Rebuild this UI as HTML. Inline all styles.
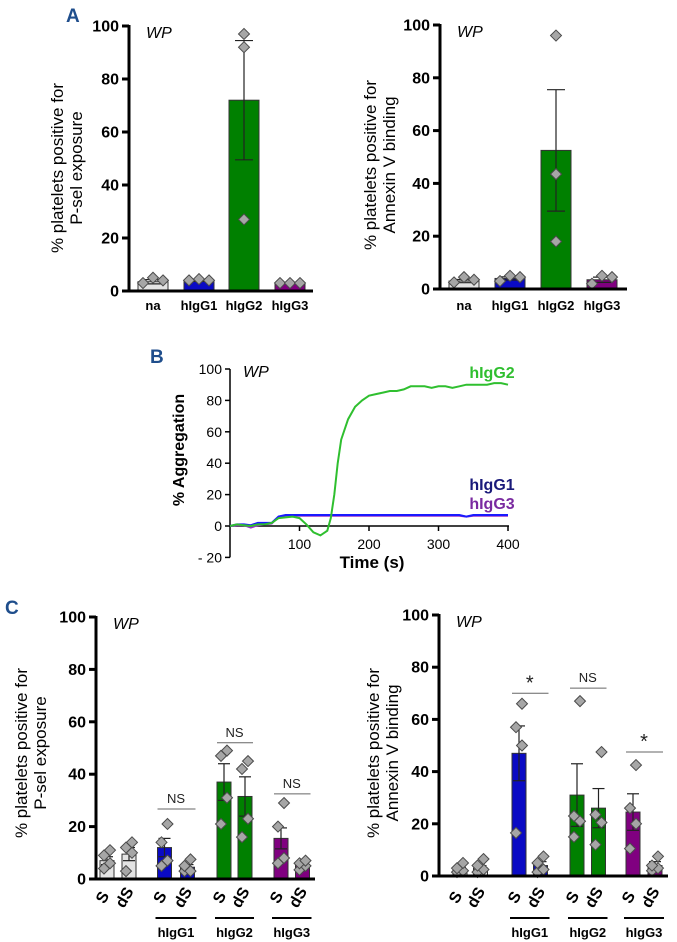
<!DOCTYPE html>
<html><head><meta charset="utf-8"><style>
html,body{margin:0;padding:0;background:#fff;}
svg{display:block;font-family:"Liberation Sans",sans-serif;}
</style></head><body>
<svg id="fig" width="677" height="942" viewBox="0 0 677 942" xmlns="http://www.w3.org/2000/svg">
<text x="66" y="22" font-size="19" font-weight="bold" fill="#1f4e8c">A</text>
<text x="150" y="363" font-size="19" font-weight="bold" fill="#1f4e8c">B</text>
<text x="5" y="614" font-size="19" font-weight="bold" fill="#1f4e8c">C</text>
</svg>
<script>
// Panel A data
const aCats = ["na","hIgG1","hIgG2","hIgG3"];
const aLeftMeans = [3.5, 4, 72, 3];
const aLeftErr = [0.8, 0.4, 22.5, 0.2];
const aLeftPts = [[3,5,4],[4,4.5,4],[27,92,97],[3,3,3]];
const aRightMeans = [3, 4, 52.5, 3.5];
const aRightErr = [0.6, 0.6, 23, 1];
const aRightPts = [[2.5,4.5,3.5],[3,5,4.5],[18,43.5,96],[2,5,4.5]];
// Panel C data
const cCats = ["S","dS","S","dS","S","dS","S","dS"];
const cGroups = ["hIgG1","hIgG2","hIgG3"];
const cLeftMeans = [7, 9.5, 12, 4.5, 37, 31.5, 15.5, 5.5];
const cLeftErr = [1.5, 2.5, 3.5, 1, 7, 7.5, 4, 1];
const cLeftPts = [[4,6,9,11],[3,10,12,14],[5,7,14,21],[3,3,5,7.5],[21,31,47,49],[16,23,42,45],[6,8,20,29],[3.5,5,6,7]];
const cRightMeans = [2.5, 3, 47, 4, 31, 26, 24.5, 4];
const cRightErr = [0.8, 1, 10.5, 1.5, 12, 7.5, 7, 1.5];
const cRightPts = [[1.5,2,3,5],[1.5,2.5,4,6.5],[16.5,50,57,66],[1.5,2.5,5,7.5],[15,21,23,67],[12,20.5,23.5,47.5],[10.5,20,26,42.5],[2,3,4,7.5]];
const cLeftSig = [["NS",26.7],["NS",52],["NS",32.5]];
const cRightSig = [["*",70],["NS",72],["*",47.5]];
// Panel B data
const bTimes = [0,10,20,30,40,50,60,70,80,90,100,110,120,130,140,145,150,155,160,170,180,190,200,210,220,230,240,250,260,270,280,290,300,310,320,330,340,350,360,370,380,390,400];
const bG2 = [0,1,0.5,0,1,1,2,5,5.5,6,5,1,-4,-6,-3,5,20,40,55,68,76,80,83,84,85,86,86,87,89,89,89,88,89,89,88,89,90,90,90,90,91,91,90];
const bG1 = [0,1,1,0.5,2,2,2,6,7,7,7,7,7,7,7,7,7,7,7,7,7,7,7,7,7,7,7,7,7,7,7,7,7,7,7,7,6,7,7,7,7,7,7];
const bG3 = [0,0.5,0.5,-1,0.5,1,1.5,6,6.5,6.5,6.5,6.5,6.5,6.5,6.5,6.5,6.5,6.5,6.5,6.5,6.5,6.5,6.5,6.5,6.5,6.5,6.5,6.5,6.5,6.5,6.5,6.5,6.5,6.5,6.5,6.5,6,6.5,6.5,6.5,6.5,6.5,6.5];
const yTicks = [0,20,40,60,80,100];
const bYTicks = [-20,0,20,40,60,80,100];
const bXTicks = [100,200,300,400];

const NS="http://www.w3.org/2000/svg";
const svg=document.getElementById('fig');
function mk(tag,attrs,parent,text){const e=document.createElementNS(NS,tag);for(const k in attrs)e.setAttribute(k,attrs[k]);if(text!==undefined)e.textContent=text;(parent||svg).appendChild(e);return e;}
const aColors=["#e3e3e3","#0a0ac4","#008000","#800080"];
const cColors=["#e3e3e3","#e3e3e3","#0a0ac4","#0a0ac4","#008000","#008000","#800080","#800080"];

function diamond(cx,cy,g){
  const d=mk('path',{d:`M${cx},${cy-5.5} L${cx+5.5},${cy} L${cx},${cy+5.5} L${cx-5.5},${cy} Z`,fill:'#a6a6a6',stroke:'#4a4a4a','stroke-width':1},g);
  
  
}

function barChart(o){
  const g=mk('g',{});
  
  
  const y=v=>o.y0-(o.y0-o.y100)*v/100;
  yTicks.forEach(t=>{
    mk('line',{x1:o.ax-7,x2:o.ax,y1:y(t),y2:y(t),stroke:'#000','stroke-width':3},g);
    const tl=mk('text',{x:o.ax-10,y:y(t)+5.5,'font-size':16,'font-weight':'bold','text-anchor':'end'},g,t);
    
    
  });
  o.means.forEach((m,i)=>{
    const cx=o.xs[i];
    const b=mk('rect',{x:cx-o.bw/2,y:y(m),width:o.bw,height:y(0)-y(m),fill:o.colors[i],stroke:'#333','stroke-width':1},g);
    
    
    const e=o.err[i];
    mk('line',{x1:cx,x2:cx,y1:y(m-e),y2:y(m+e),stroke:'#222','stroke-width':1.2},g);
    mk('line',{x1:cx-o.cap,x2:cx+o.cap,y1:y(m+e),y2:y(m+e),stroke:'#222','stroke-width':1.2},g);
    mk('line',{x1:cx-o.cap,x2:cx+o.cap,y1:y(m-e),y2:y(m-e),stroke:'#222','stroke-width':1.2},g);
    const n=o.pts[i].length;
    const sp=o.zig ? 0 : (m>20?0:o.spread);
    o.pts[i].forEach((p,j)=>{
      const off=o.zig ? (j%2?o.spread:-o.spread) : sp*(j-(n-1)/2);
      diamond(cx+off,y(p),g);
    });
  });
  mk('line',{x1:o.ax,x2:o.ax,y1:o.y100-1,y2:y(0)+1.5,stroke:'#000','stroke-width':3},g);
  mk('line',{x1:o.ax-1.5,x2:o.xEnd,y1:y(0),y2:y(0),stroke:'#000','stroke-width':3},g);
  const wp=mk('text',{x:o.ax+17,y:o.y100+12,'font-size':16,'font-style':'italic'},g,'WP');
  
  
  const yt=mk('text',{'font-size':17,'text-anchor':'middle',transform:`translate(${o.tx},${o.ty}) rotate(-90)`},g);
  
  
  mk('tspan',{x:0,y:-9},yt,o.title[0]);
  mk('tspan',{x:0,y:10},yt,o.title[1]);
  return {g,y};
}

function panelA(o,means,err,pts){
  const r=barChart(Object.assign(o,{means,err,pts,colors:aColors,labels:aCats,bw:30,cap:9,spread:10}));
  aCats.forEach((c,i)=>{
    const t=mk('text',{x:o.xs[i],y:310,'font-size':13,'font-weight':'bold','text-anchor':'middle'},r.g,c);
    
    
  });
}
panelA({name:'chart-a-psel',ax:129,y0:291,y100:26,xEnd:313,xs:[153,199,244,290],tx:72,ty:168,title:['% platelets positive for','P-sel exposure']},aLeftMeans,aLeftErr,aLeftPts);
panelA({name:'chart-a-annexin',ax:440,y0:289,y100:25,xEnd:627,xs:[464,510,556,602],tx:385,ty:165,title:['% platelets positive for','Annexin V binding']},aRightMeans,aRightErr,aRightPts);

function panelC(o,means,err,pts,sig){
  const r=barChart(Object.assign(o,{means,err,pts,colors:cColors,labels:cCats,bw:14,cap:6,spread:3,zig:true}));
  cCats.forEach((c,i)=>{
    const t=mk('text',{'font-size':16,'font-weight':'bold','text-anchor':'middle',transform:`translate(${o.xs[i]},${900}) rotate(-60)`},r.g,c);
    
    
  });
  cGroups.forEach((gname,k)=>{
    const x1=o.xs[2+2*k]-9,x2=o.xs[3+2*k]+9;
    mk('line',{x1,x2,y1:918,y2:918,stroke:'#000','stroke-width':2},r.g);
    const t=mk('text',{x:(x1+x2)/2,y:937,'font-size':13,'font-weight':'bold','text-anchor':'middle'},r.g,gname);
    
    
    const [s,v]=sig[k];
    const sy=r.y(v);
    mk('line',{x1:o.xs[2+2*k]-7,x2:o.xs[3+2*k]+8,y1:sy,y2:sy,stroke:'#666','stroke-width':1},r.g);
    const st=mk('text',{x:(o.xs[2+2*k]+o.xs[3+2*k])/2,y:s==='*'?sy-4:sy-6,'font-size':s==='*'?20:13,'text-anchor':'middle',fill:'#222'},r.g,s);
    
    
  });
}
panelC({name:'chart-c-psel',ax:96,y0:879,y100:617,xEnd:315,xs:[107,129,164.5,187.5,224,245,281,302.5],tx:36,ty:753,title:['% platelets positive for','P-sel exposure']},cLeftMeans,cLeftErr,cLeftPts,cLeftSig);
panelC({name:'chart-c-annexin',ax:439,y0:876,y100:615,xEnd:668,xs:[460,480.5,519,540.5,577,598.5,633,655],tx:388,ty:753,title:['% platelets positive for','Annexin V binding']},cRightMeans,cRightErr,cRightPts,cRightSig);

// Panel B
(function(){
  const g=mk('g',{});
  
  
  const X=t=>230+(508-230)*t/400;
  const Y=v=>526-(526-369)*v/100;
  mk('line',{x1:230,x2:230,y1:Y(100),y2:Y(-20),stroke:'#000','stroke-width':1.5},g);
  mk('line',{x1:230,x2:509,y1:Y(0),y2:Y(0),stroke:'#000','stroke-width':1.5},g);
  bYTicks.forEach(t=>{
    mk('line',{x1:225,x2:230,y1:Y(t),y2:Y(t),stroke:'#000','stroke-width':1.5},g);
    const l=mk('text',{x:222,y:Y(t)+5,'font-size':14,'text-anchor':'end'},g,t<0?'- '+(-t):t);
    
    
  });
  bXTicks.forEach(t=>{
    mk('line',{x1:X(t),x2:X(t),y1:Y(0),y2:Y(0)+5,stroke:'#000','stroke-width':1.5},g);
    const l=mk('text',{x:X(t),y:549,'font-size':14,'text-anchor':'middle'},g,t);
    
    
  });
  const xt=mk('text',{x:372,y:568,'font-size':17,'font-weight':'bold','text-anchor':'middle'},g,'Time (s)');
  
  
  const yt=mk('text',{'font-size':16,'font-weight':'bold','text-anchor':'middle',transform:'translate(184,450) rotate(-90)'},g,'% Aggregation');
  
  
  const wp=mk('text',{x:243,y:377,'font-size':16,'font-style':'italic'},g,'WP');
  
  
  const series=[[bG3,'#9b30c8','hIgG3'],[bG1,'#1a1aff','hIgG1'],[bG2,'#2fbf2f','hIgG2']];
  series.forEach(([vals,col,nm])=>{
    const d=vals.map((v,i)=>(i?'L':'M')+X(bTimes[i]).toFixed(1)+','+Y(v).toFixed(1)).join(' ');
    const p=mk('path',{d,fill:'none',stroke:col,'stroke-width':2},g);
    
    
  });
  [['hIgG2','#2fbf2f',378],['hIgG1','#1a1a7a',490],['hIgG3','#7a2aa0',509]].forEach(([nm,col,yy])=>{
    const t=mk('text',{x:492,y:yy,'font-size':16,'font-weight':'bold','text-anchor':'middle',fill:col},g,nm);
    
    
  });
})();
</script>
</body></html>
